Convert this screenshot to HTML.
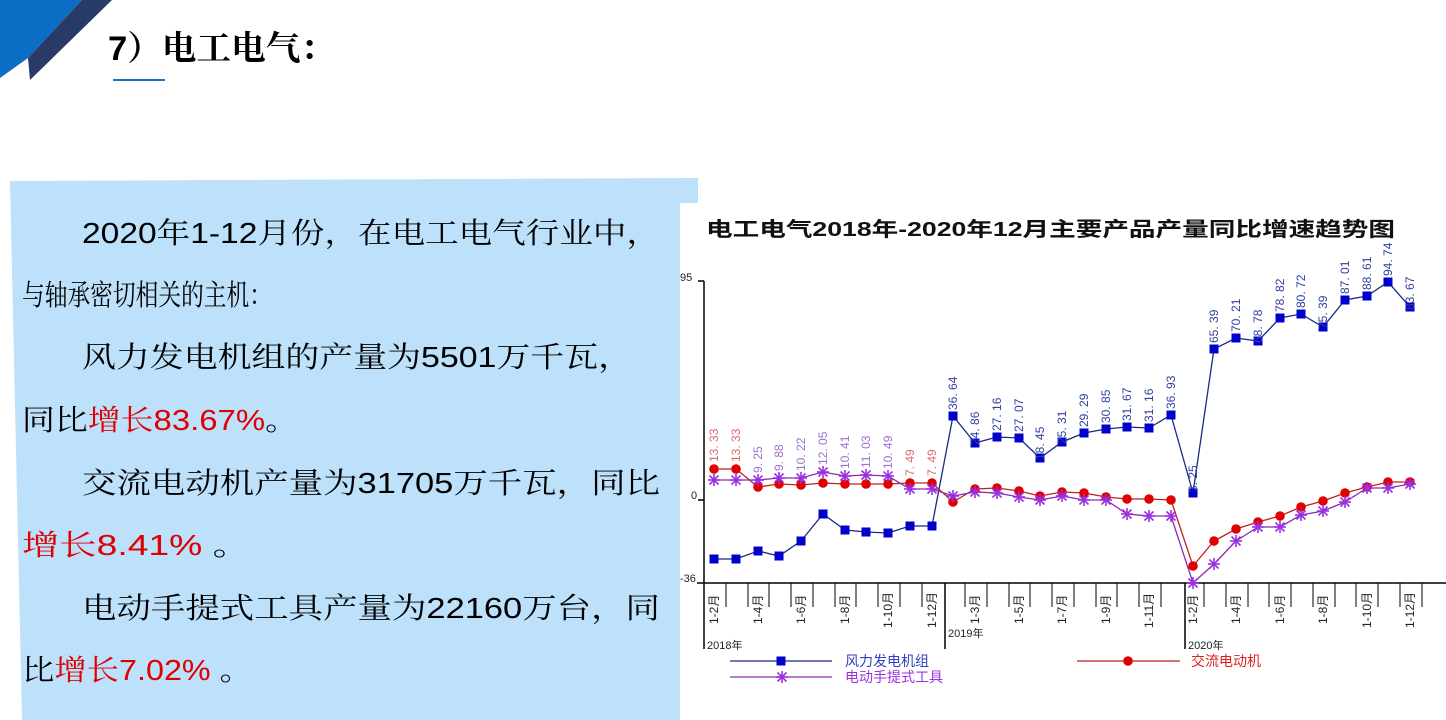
<!DOCTYPE html>
<html><head><meta charset="utf-8"><style>
html,body{margin:0;padding:0;background:#fff;}
svg{display:block;}
</style></head><body>
<svg width="1446" height="720" viewBox="0 0 1446 720" xmlns="http://www.w3.org/2000/svg" font-family="'Liberation Sans','Noto Sans CJK SC',sans-serif">
<defs>
<rect id="sq" x="-4.5" y="-4.5" width="9" height="9" fill="#0000cc"/>
<circle id="ci" r="4.8" fill="#e00000"/>
<g id="st" stroke="#9a30e0" stroke-width="1.6"><line x1="-6" y1="0" x2="6" y2="0"/><line x1="0" y1="-6" x2="0" y2="6"/><line x1="-4.5" y1="-4.5" x2="4.5" y2="4.5"/><line x1="-4.5" y1="4.5" x2="4.5" y2="-4.5"/></g>
</defs>
<!-- header -->
<polygon points="0,0 82,0 28,58 0,78" fill="#0a6fc4"/>
<polygon points="82,0 112,0 30,80 28,58" fill="#283a66"/>
<text x="108" y="60" font-size="34" font-weight="bold" fill="#000" font-family="'Liberation Sans','Noto Serif CJK SC',serif" textLength="227" lengthAdjust="spacingAndGlyphs">7）电工电气：</text>
<rect x="113" y="79" width="52" height="2" fill="#1a73c8"/>
<!-- blue panel -->
<polygon points="10,181 698,178 698,203 680,203 680,720 22,720" fill="#bde0fb"/>
<g font-size="29" fill="#000" font-family="'Liberation Sans','Noto Serif CJK SC',serif">
<text x="82" y="243" textLength="578" lengthAdjust="spacingAndGlyphs">2020年1-12月份，在电工电气行业中，</text>
<text x="22" y="305" textLength="250" lengthAdjust="spacingAndGlyphs">与轴承密切相关的主机：</text>
<text x="82" y="367" textLength="550" lengthAdjust="spacingAndGlyphs">风力发电机组的产量为5501万千瓦，</text>
<text x="22" y="430" textLength="276" lengthAdjust="spacingAndGlyphs">同比<tspan fill="#e00000">增长83.67%</tspan>。</text>
<text x="82" y="493" textLength="578" lengthAdjust="spacingAndGlyphs">交流电动机产量为31705万千瓦，同比</text>
<text x="22" y="555" textLength="228" lengthAdjust="spacingAndGlyphs"><tspan fill="#e00000">增长8.41%</tspan> 。</text>
<text x="82" y="618" textLength="578" lengthAdjust="spacingAndGlyphs">电动手提式工具产量为22160万台，同</text>
<text x="22" y="680" textLength="230" lengthAdjust="spacingAndGlyphs">比<tspan fill="#e00000">增长7.02%</tspan> 。</text>
</g>
<!-- chart -->
<text x="706" y="236" font-size="20" font-weight="bold" fill="#111" textLength="689" lengthAdjust="spacingAndGlyphs">电工电气2018年-2020年12月主要产品产量同比增速趋势图</text>
<g stroke="#000" stroke-width="1.5" fill="none">
<line x1="704" y1="281" x2="704" y2="649"/>
<line x1="698" y1="281" x2="704" y2="281"/>
<line x1="698" y1="500" x2="704" y2="500"/>
<line x1="697" y1="583" x2="1452" y2="583"/>
<line x1="945" y1="583" x2="945" y2="649"/>
<line x1="1185" y1="583" x2="1185" y2="649"/>
</g>
<g stroke="#000" stroke-width="1">
<line x1="726" y1="583" x2="726" y2="607"/><line x1="748" y1="583" x2="748" y2="607"/><line x1="769" y1="583" x2="769" y2="607"/><line x1="791" y1="583" x2="791" y2="607"/><line x1="813" y1="583" x2="813" y2="607"/><line x1="835" y1="583" x2="835" y2="607"/><line x1="856" y1="583" x2="856" y2="607"/><line x1="878" y1="583" x2="878" y2="607"/><line x1="900" y1="583" x2="900" y2="607"/><line x1="922" y1="583" x2="922" y2="607"/><line x1="965" y1="583" x2="965" y2="607"/><line x1="987" y1="583" x2="987" y2="607"/><line x1="1009" y1="583" x2="1009" y2="607"/><line x1="1030" y1="583" x2="1030" y2="607"/><line x1="1052" y1="583" x2="1052" y2="607"/><line x1="1074" y1="583" x2="1074" y2="607"/><line x1="1096" y1="583" x2="1096" y2="607"/><line x1="1117" y1="583" x2="1117" y2="607"/><line x1="1139" y1="583" x2="1139" y2="607"/><line x1="1161" y1="583" x2="1161" y2="607"/><line x1="1204" y1="583" x2="1204" y2="607"/><line x1="1226" y1="583" x2="1226" y2="607"/><line x1="1248" y1="583" x2="1248" y2="607"/><line x1="1269" y1="583" x2="1269" y2="607"/><line x1="1291" y1="583" x2="1291" y2="607"/><line x1="1313" y1="583" x2="1313" y2="607"/><line x1="1335" y1="583" x2="1335" y2="607"/><line x1="1356" y1="583" x2="1356" y2="607"/><line x1="1378" y1="583" x2="1378" y2="607"/><line x1="1400" y1="583" x2="1400" y2="607"/><line x1="1422" y1="583" x2="1422" y2="607"/>
</g>
<g font-size="11" fill="#222">
<text x="680" y="281">95</text>
<text x="691" y="499">0</text>
<text x="680" y="582">-36</text>
<text x="707" y="649">2018年</text>
<text x="948" y="637">2019年</text>
<text x="1188" y="649">2020年</text>
</g>
<g font-size="12" fill="#222">
<text transform="translate(718,624) rotate(-90)">1-2月</text>
<text transform="translate(762,624) rotate(-90)">1-4月</text>
<text transform="translate(805,624) rotate(-90)">1-6月</text>
<text transform="translate(849,624) rotate(-90)">1-8月</text>
<text transform="translate(892,628) rotate(-90)">1-10月</text>
<text transform="translate(936,628) rotate(-90)">1-12月</text>
<text transform="translate(979,624) rotate(-90)">1-3月</text>
<text transform="translate(1023,624) rotate(-90)">1-5月</text>
<text transform="translate(1066,624) rotate(-90)">1-7月</text>
<text transform="translate(1110,624) rotate(-90)">1-9月</text>
<text transform="translate(1153,628) rotate(-90)">1-11月</text>
<text transform="translate(1197,624) rotate(-90)">1-2月</text>
<text transform="translate(1240,624) rotate(-90)">1-4月</text>
<text transform="translate(1284,624) rotate(-90)">1-6月</text>
<text transform="translate(1327,624) rotate(-90)">1-8月</text>
<text transform="translate(1371,628) rotate(-90)">1-10月</text>
<text transform="translate(1414,628) rotate(-90)">1-12月</text>
</g>
<!-- series lines -->
<polyline fill="none" stroke="#1a2a80" stroke-width="1.3" points="714,559 736,559 758,551 779,556 801,541 823,514 845,530 866,532 888,533 910,526 932,526 953,416 975,443 997,437 1019,438 1040,458 1062,442 1084,433 1106,429 1127,427 1149,428 1171,415 1193,493 1214,349 1236,338 1258,341 1280,318 1301,314 1323,327 1345,300 1367,296 1388,282 1410,307"/>
<polyline fill="none" stroke="#c02020" stroke-width="1.3" points="714,469 736,469 758,487 779,484 801,485 823,483 845,484 866,484 888,484 910,483 932,483 953,502 975,489 997,488 1019,491 1040,496 1062,492 1084,493 1106,497 1127,499 1149,499 1171,500 1193,566 1214,541 1236,529 1258,522 1280,516 1301,507 1323,501 1345,493 1367,487 1388,482 1410,482"/>
<polyline fill="none" stroke="#8a2ab0" stroke-width="1.3" points="714,480 736,480 758,480 779,478 801,478 823,472 845,476 866,475 888,476 910,489 932,489 953,496 975,492 997,493 1019,497 1040,500 1062,496 1084,500 1106,500 1127,514 1149,516 1171,516 1193,583 1214,564 1236,541 1258,527 1280,527 1301,515 1323,511 1345,502 1367,488 1388,488 1410,484"/>
<!-- markers -->
<g>
<use href="#ci" x="714" y="469"/><use href="#ci" x="736" y="469"/><use href="#ci" x="758" y="487"/><use href="#ci" x="779" y="484"/><use href="#ci" x="801" y="485"/><use href="#ci" x="823" y="483"/><use href="#ci" x="845" y="484"/><use href="#ci" x="866" y="484"/><use href="#ci" x="888" y="484"/><use href="#ci" x="910" y="483"/><use href="#ci" x="932" y="483"/><use href="#ci" x="953" y="502"/><use href="#ci" x="975" y="489"/><use href="#ci" x="997" y="488"/><use href="#ci" x="1019" y="491"/><use href="#ci" x="1040" y="496"/><use href="#ci" x="1062" y="492"/><use href="#ci" x="1084" y="493"/><use href="#ci" x="1106" y="497"/><use href="#ci" x="1127" y="499"/><use href="#ci" x="1149" y="499"/><use href="#ci" x="1171" y="500"/><use href="#ci" x="1193" y="566"/><use href="#ci" x="1214" y="541"/><use href="#ci" x="1236" y="529"/><use href="#ci" x="1258" y="522"/><use href="#ci" x="1280" y="516"/><use href="#ci" x="1301" y="507"/><use href="#ci" x="1323" y="501"/><use href="#ci" x="1345" y="493"/><use href="#ci" x="1367" y="487"/><use href="#ci" x="1388" y="482"/><use href="#ci" x="1410" y="482"/>
<use href="#st" x="714" y="480"/><use href="#st" x="736" y="480"/><use href="#st" x="758" y="480"/><use href="#st" x="779" y="478"/><use href="#st" x="801" y="478"/><use href="#st" x="823" y="472"/><use href="#st" x="845" y="476"/><use href="#st" x="866" y="475"/><use href="#st" x="888" y="476"/><use href="#st" x="910" y="489"/><use href="#st" x="932" y="489"/><use href="#st" x="953" y="496"/><use href="#st" x="975" y="492"/><use href="#st" x="997" y="493"/><use href="#st" x="1019" y="497"/><use href="#st" x="1040" y="500"/><use href="#st" x="1062" y="496"/><use href="#st" x="1084" y="500"/><use href="#st" x="1106" y="500"/><use href="#st" x="1127" y="514"/><use href="#st" x="1149" y="516"/><use href="#st" x="1171" y="516"/><use href="#st" x="1193" y="583"/><use href="#st" x="1214" y="564"/><use href="#st" x="1236" y="541"/><use href="#st" x="1258" y="527"/><use href="#st" x="1280" y="527"/><use href="#st" x="1301" y="515"/><use href="#st" x="1323" y="511"/><use href="#st" x="1345" y="502"/><use href="#st" x="1367" y="488"/><use href="#st" x="1388" y="488"/><use href="#st" x="1410" y="484"/>
<use href="#sq" x="714" y="559"/><use href="#sq" x="736" y="559"/><use href="#sq" x="758" y="551"/><use href="#sq" x="779" y="556"/><use href="#sq" x="801" y="541"/><use href="#sq" x="823" y="514"/><use href="#sq" x="845" y="530"/><use href="#sq" x="866" y="532"/><use href="#sq" x="888" y="533"/><use href="#sq" x="910" y="526"/><use href="#sq" x="932" y="526"/><use href="#sq" x="953" y="416"/><use href="#sq" x="975" y="443"/><use href="#sq" x="997" y="437"/><use href="#sq" x="1019" y="438"/><use href="#sq" x="1040" y="458"/><use href="#sq" x="1062" y="442"/><use href="#sq" x="1084" y="433"/><use href="#sq" x="1106" y="429"/><use href="#sq" x="1127" y="427"/><use href="#sq" x="1149" y="428"/><use href="#sq" x="1171" y="415"/><use href="#sq" x="1193" y="493"/><use href="#sq" x="1214" y="349"/><use href="#sq" x="1236" y="338"/><use href="#sq" x="1258" y="341"/><use href="#sq" x="1280" y="318"/><use href="#sq" x="1301" y="314"/><use href="#sq" x="1323" y="327"/><use href="#sq" x="1345" y="300"/><use href="#sq" x="1367" y="296"/><use href="#sq" x="1388" y="282"/><use href="#sq" x="1410" y="307"/>
</g>
<!-- data labels -->
<g font-size="12" fill="#e06a6a">
<text transform="translate(718,462) rotate(-90)">13. 33</text>
<text transform="translate(740,462) rotate(-90)">13. 33</text>
<text transform="translate(914,476) rotate(-90)">7. 49</text>
<text transform="translate(936,476) rotate(-90)">7. 49</text>
</g>
<g font-size="12" fill="#a070d0">
<text transform="translate(762,473) rotate(-90)">9. 25</text>
<text transform="translate(783,471) rotate(-90)">9. 88</text>
<text transform="translate(805,471) rotate(-90)">10. 22</text>
<text transform="translate(827,465) rotate(-90)">12. 05</text>
<text transform="translate(849,469) rotate(-90)">10. 41</text>
<text transform="translate(870,468) rotate(-90)">11. 03</text>
<text transform="translate(892,469) rotate(-90)">10. 49</text>
</g>
<g font-size="12" fill="#3040a0">
<text transform="translate(957,410) rotate(-90)">36. 64</text>
<text transform="translate(979,445) rotate(-90)">24. 86</text>
<text transform="translate(1001,431) rotate(-90)">27. 16</text>
<text transform="translate(1023,432) rotate(-90)">27. 07</text>
<text transform="translate(1044,460) rotate(-90)">18. 45</text>
<text transform="translate(1066,444) rotate(-90)">25. 31</text>
<text transform="translate(1088,427) rotate(-90)">29. 29</text>
<text transform="translate(1110,423) rotate(-90)">30. 85</text>
<text transform="translate(1131,421) rotate(-90)">31. 67</text>
<text transform="translate(1153,422) rotate(-90)">31. 16</text>
<text transform="translate(1175,409) rotate(-90)">36. 93</text>
<text transform="translate(1197,492) rotate(-90)">3. 25</text>
<text transform="translate(1218,343) rotate(-90)">65. 39</text>
<text transform="translate(1240,332) rotate(-90)">70. 21</text>
<text transform="translate(1262,343) rotate(-90)">68. 78</text>
<text transform="translate(1284,312) rotate(-90)">78. 82</text>
<text transform="translate(1305,308) rotate(-90)">80. 72</text>
<text transform="translate(1327,329) rotate(-90)">75. 39</text>
<text transform="translate(1349,294) rotate(-90)">87. 01</text>
<text transform="translate(1371,290) rotate(-90)">88. 61</text>
<text transform="translate(1392,276) rotate(-90)">94. 74</text>
<text transform="translate(1414,310) rotate(-90)">83. 67</text>
</g>
<!-- legend -->
<line x1="730" y1="661" x2="832" y2="661" stroke="#1a2a80" stroke-width="1.3"/>
<use href="#sq" x="781" y="661"/>
<text x="845" y="666" font-size="14" fill="#3040c0">风力发电机组</text>
<line x1="730" y1="677" x2="832" y2="677" stroke="#8a2ab0" stroke-width="1.3"/>
<use href="#st" x="782" y="677"/>
<text x="845" y="682" font-size="14" fill="#9a30e0">电动手提式工具</text>
<line x1="1077" y1="661" x2="1180" y2="661" stroke="#c02020" stroke-width="1.3"/>
<use href="#ci" x="1128" y="661"/>
<text x="1191" y="666" font-size="14" fill="#e02020">交流电动机</text>
</svg>
</body></html>
